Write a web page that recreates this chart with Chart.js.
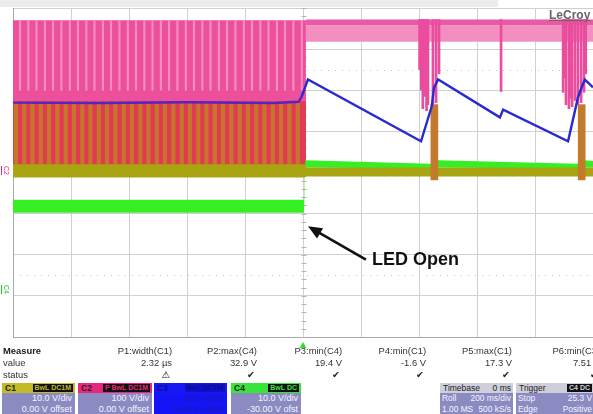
<!DOCTYPE html>
<html>
<head>
<meta charset="utf-8">
<script src="https://cdn.jsdelivr.net/npm/chart.js@4.4.1/dist/chart.umd.min.js"></script>
<style>
  html, body { margin: 0; padding: 0; background: #fff; }
  #wrap { position: relative; width: 593px; height: 414px; overflow: hidden;
          font-family: "Liberation Sans", Arial, sans-serif; color: #333; }
  canvas { position: absolute; left: 0; top: 0; }
  .topbar { position: absolute; left: 0; top: 0; width: 498px; height: 7px; background: #ececec; }
  .brand { position: absolute; left: 549px; top: 8px; font: bold 12px/14px "Liberation Sans", Arial, sans-serif;
           color: #666; text-decoration: underline; }
  .chlabel { position: absolute; font: 7px/8px "Liberation Sans", Arial, sans-serif; transform: rotate(90deg);
             border-bottom: 1px solid currentColor; }
  .note { position: absolute; left: 372px; top: 249px; font: bold 18px/20px "Liberation Sans", Arial, sans-serif; color: #111; }
  .m { position: absolute; font: 9.4px/12px "Liberation Sans", Arial, sans-serif; color: #333; white-space: nowrap; }
  .m.b { font-weight: bold; color: #222; }
  .ic { position: absolute; font: bold 9.5px/12px "DejaVu Sans", sans-serif; color: #222; }
  .box { position: absolute; top: 383px; height: 31px; overflow: hidden; }
  .hd { position: relative; height: 10px; padding-left: 3px; font: bold 8.5px/10px "Liberation Sans", Arial, sans-serif; color: #222; }
  .badge { position: absolute; right: 2px; top: 1px; height: 8px; padding: 0 2px; background: #111;
           font: bold 7px/8px "Liberation Sans", Arial, sans-serif; }
  .bd { height: 21px; background: #8b8bc2; color: #f4f4ff; text-align: right; padding-right: 3px;
        font: 9px/10.5px "Liberation Sans", Arial, sans-serif; white-space: nowrap; }
  .bd.small { font-size: 8.4px; padding-right: 2px; }
  .row { display: flex; justify-content: space-between; padding-left: 2px; }
</style>
</head>
<body>
<div id="wrap">
  <canvas id="scope" width="593" height="414"></canvas>
  <div class="topbar"></div>
  <div class="brand">LeCroy</div>
  <div class="chlabel" style="left:1px;top:166px;color:#e2287a">C2</div>
  <div class="chlabel" style="left:1px;top:285px;color:#22c022">C4</div>
  <div class="note">LED Open</div>

  <div class="m b" style="left:3px;top:345px">Measure</div>
  <div class="m" style="left:3px;top:357px">value</div>
  <div class="m" style="left:3px;top:369px">status</div>
  <div id="measure"></div>

  <div class="box" style="left:2px;width:73px">
    <div class="hd" style="background:#c2ba26">C1<span class="badge" style="color:#c2ba26">BwL DC1M</span></div>
    <div class="bd"><div>10.0 V/div</div><div>0.00 V offset</div></div>
  </div>
  <div class="box" style="left:78px;width:74px">
    <div class="hd" style="background:#e8267e">C2<span class="badge" style="color:#e8267e">P BwL DC1M</span></div>
    <div class="bd"><div>100 V/div</div><div>0.00 V offset</div></div>
  </div>
  <div class="box" style="left:154px;width:73px">
    <div class="hd" style="background:#1818f4;color:#0c0c90">C3<span class="badge" style="background:#1010c8;color:#0c0c90">BwL DC1M</span></div>
    <div class="bd" style="background:#1414f6;color:#1a1ab0"><div>10.0 V/div</div><div>0.00 V offset</div></div>
  </div>
  <div class="box" style="left:231px;width:70px">
    <div class="hd" style="background:#38e438">C4<span class="badge" style="color:#38e438">BwL DC</span></div>
    <div class="bd"><div>10.0 V/div</div><div>-30.00 V ofst</div></div>
  </div>
  <div class="box" style="left:440px;width:73px">
    <div class="hd" style="background:#cfcfdc"><div class="row" style="padding:0 2px 0 0;font-weight:normal"><span>Timebase</span><span>0 ms</span></div></div>
    <div class="bd small"><div class="row"><span>Roll</span><span>200 ms/div</span></div><div class="row"><span>1.00 MS</span><span>500 kS/s</span></div></div>
  </div>
  <div class="box" style="left:516px;width:84px">
    <div class="hd" style="background:#cfcfdc;font-weight:normal">Trigger<span class="badge" style="right:8px;color:#cfcfdc">C4 DC</span></div>
    <div class="bd small" style="padding-right:8px"><div class="row"><span>Stop</span><span>25.3 V</span></div><div class="row"><span>Edge</span><span>Positive</span></div></div>
  </div>
</div>

<script>
// time axis in ms (200 ms/div, trigger at 0), vertical axis in divisions
const timeMin = -1000;
const timeMax = 1000;

// C3 (blue): output voltage, V
const c3Time  = [-1000, -700, -400, -100, -15, -5, 17, 407, 444, 452, 466, 679, 690, 914, 948, 962, 972, 1000];
const c3Volts = [17.0, 16.9, 17.1, 16.9, 17.2, 18.4, 22.6, 7.6, 16.1, 20.7, 22.6, 13.4, 15.3, 7.6, 18.2, 20.9, 22.6, 20.7];

// C4 (green): noisy band, V
const c4Time = [-1000, 3, 8, 440, 466, 945, 972, 1000];
const c4High = [23.4, 23.4, 33.0, 32.1, 33.0, 32.1, 33.0, 32.8];
const c4Low  = [20.2, 20.2, 31.2, 30.9, 31.2, 30.9, 31.2, 31.2];

// C1 (olive): baseline band and switching pulses, V
const c1Time = [-1000, 6, 12, 1000];
const c1High = [2.0, 2.0, 1.2, 1.2];
const c1Low  = [-1.2, -1.2, -1.0, -1.0];
const c1PulseTop = 17.3;
const c1PulseTimes = [-990, -961, -933, -904, -876, -847, -818, -790, -761, -733, -704, -676,
                      -647, -618, -590, -561, -533, -504, -476, -447, -418, -390, -361, -333,
                      -304, -276, -247, -218, -190, -161, -133, -104, -76, -47, -18];
const c1BurstTimes = [453, 961];
const c1BurstTop = 16.5;
const c1BurstLow = -1.8;

// C2 (pink): switch node, V
const c2LeftTime = [-1000, 10];
const c2LeftTop  = [370, 370];
const c2LeftLow  = [0, 0];
const c2PulseTimes = [-976, -947, -919, -890, -862, -833, -804, -776, -747, -719, -690, -662,
                      -633, -604, -576, -547, -519, -490, -462, -433, -404, -376, -347, -319,
                      -290, -262, -233, -204, -176, -147, -119, -90, -62, -33, -4];
const c2PulseLow = 200;
const c2RightTime = [10, 1000];
const c2RightTop  = [372, 372];
const c2RightMid  = [358, 358];
const c2RightLow  = [318, 318];
const c2SpikeTimes = [402, 408, 413, 421, 426, 431, 448, 459, 469, 683,
                      897, 902, 907, 917, 922, 928, 938, 948, 959, 969, 975];
const c2SpikeLows  = [250, 200, 155, 185, 150, 165, 160, 170, 240, 197,
                      195, 230, 165, 155, 180, 160, 175, 165, 170, 195, 240];

// measurement table
const measureNames  = ['P1:width(C1)', 'P2:max(C4)', 'P3:min(C4)', 'P4:min(C1)', 'P5:max(C1)', 'P6:min(C3)'];
const measureValues = ['2.32 µs', '32.9 V', '19.4 V', '-1.6 V', '17.3 V', '7.51 V'];
const measureStatus = ['⚠', '✔', '✔', '✔', '✔', '✔'];
const measureRight  = [172, 257, 342, 426, 512, 600];

// annotation arrow (ms, div)
const arrowFrom = { t: 217, d: -2.12 };
const arrowTo   = { t: 17, d: -1.31 };

const pts = (times, vals) => times.map((t, i) => ({ x: t, y: vals[i] }));
const bars = (times, lo, hi) => times.map((t, i) => ({
  x: t, y: [Array.isArray(lo) ? lo[i] : lo, Array.isArray(hi) ? hi[i] : hi]
}));

function band(axis, times, hi, lo, color) {
  return [
    { type: 'line', yAxisID: axis, data: pts(times, hi), fill: '+1', backgroundColor: color,
      borderWidth: 0, pointRadius: 0 },
    { type: 'line', yAxisID: axis, data: pts(times, lo), fill: false, borderWidth: 0, pointRadius: 0 },
  ];
}

function stripes(axis, data, color, width) {
  return { type: 'bar', yAxisID: axis, data: data, backgroundColor: color, borderWidth: 0,
           barThickness: width, grouped: false };
}

// build measurement rows
const measure = document.getElementById('measure');
measureNames.forEach((name, i) => {
  const r = 593 - measureRight[i];
  measure.insertAdjacentHTML('beforeend',
    `<div class="m" style="right:${r}px;top:345px">${name}</div>` +
    `<div class="m" style="right:${r}px;top:357px">${measureValues[i]}</div>` +
    `<div class="ic" style="right:${r + 2}px;top:369px">${measureStatus[i]}</div>`);
});

const scopeDecor = {
  id: 'scopeDecor',
  beforeDatasetsDraw(chart) {
    const { ctx, chartArea: a, scales: { x, y } } = chart;
    ctx.save();
    ctx.strokeStyle = '#c4c4c4';
    ctx.lineWidth = 1;
    ctx.setLineDash([1, 6]);
    [2.5, -2.5].forEach((d) => {
      const py = Math.round(y.getPixelForValue(d)) + 0.5;
      ctx.beginPath(); ctx.moveTo(a.left, py); ctx.lineTo(a.right, py); ctx.stroke();
    });
    ctx.setLineDash([]);
    ctx.strokeStyle = '#b4b4b4';
    const cx = Math.round(x.getPixelForValue(0)) + 0.5;
    const cy = Math.round(y.getPixelForValue(0)) + 0.5;
    for (let i = -20; i <= 20; i++) {
      const py = Math.round(y.getPixelForValue(i / 5)) + 0.5;
      ctx.beginPath(); ctx.moveTo(cx - 2, py); ctx.lineTo(cx + 3, py); ctx.stroke();
    }
    for (let i = -25; i <= 25; i++) {
      const px = Math.round(x.getPixelForValue(i * 40)) + 0.5;
      ctx.beginPath(); ctx.moveTo(px, cy - 2); ctx.lineTo(px, cy + 3); ctx.stroke();
    }
    ctx.restore();
  },
  afterDatasetsDraw(chart) {
    const { ctx, chartArea: a, scales: { x, y } } = chart;
    ctx.save();
    // arrow
    const x0 = x.getPixelForValue(arrowFrom.t), y0 = y.getPixelForValue(arrowFrom.d);
    const x1 = x.getPixelForValue(arrowTo.t), y1 = y.getPixelForValue(arrowTo.d);
    const ang = Math.atan2(y1 - y0, x1 - x0);
    const head = 14;
    ctx.strokeStyle = '#111';
    ctx.fillStyle = '#111';
    ctx.lineWidth = 2.6;
    ctx.beginPath();
    ctx.moveTo(x0, y0);
    ctx.lineTo(x1 - Math.cos(ang) * head * 0.8, y1 - Math.sin(ang) * head * 0.8);
    ctx.stroke();
    ctx.beginPath();
    ctx.moveTo(x1, y1);
    ctx.lineTo(x1 - head * Math.cos(ang) + 6 * Math.sin(ang), y1 - head * Math.sin(ang) - 6 * Math.cos(ang));
    ctx.lineTo(x1 - head * Math.cos(ang) - 6 * Math.sin(ang), y1 - head * Math.sin(ang) + 6 * Math.cos(ang));
    ctx.closePath();
    ctx.fill();
    // trigger position marker
    const tx = x.getPixelForValue(0);
    ctx.fillStyle = '#33dd33';
    ctx.beginPath();
    ctx.moveTo(tx, a.bottom + 5);
    ctx.lineTo(tx - 3.5, a.bottom + 11);
    ctx.lineTo(tx + 3.5, a.bottom + 11);
    ctx.closePath();
    ctx.fill();
    ctx.restore();
  }
};

const hiddenAxis = (min, max) => ({ axis: 'y', position: 'left', display: false, min: min, max: max });

new Chart(document.getElementById('scope'), {
  type: 'line',
  data: {
    datasets: [
      // first dataset is drawn on top
      { type: 'line', yAxisID: 'c3', data: pts(c3Time, c3Volts), borderWidth: 2.4, pointRadius: 0,
        borderColor: '#2a2ad0', fill: false,
        segment: { borderColor: (c) => (c.p0.parsed.x < -10 ? '#5a22c0' : '#2a2ad0') } },
      stripes('c2', bars(c2SpikeTimes, c2SpikeLows, 372), '#ea4c9e', 2),
      stripes('c1', bars(c1BurstTimes, c1BurstLow, c1BurstTop), '#c27a2c', 7),
      ...band('c1', c1Time, c1High, c1Low, '#a8a412'),
      ...band('c4', c4Time, c4High, c4Low, '#36ee24'),
      ...band('c2', c2RightTime, c2RightTop, c2RightMid, '#eb58a4'),
      ...band('c2', c2RightTime, c2RightMid, c2RightLow, '#f38fc0'),
      stripes('c1', bars(c1PulseTimes, 0, c1PulseTop), '#c6762c', 3.5),
      ...band('c1', c2LeftTime, [c1PulseTop, c1PulseTop], [0, 0], '#e23a52'),
      stripes('c2', bars(c2PulseTimes, c2PulseLow, 368), '#f48cc0', 1.5),
      ...band('c2', c2LeftTime, c2LeftTop, c2LeftLow, '#ec4f9c'),
    ]
  },
  options: {
    responsive: false,
    animation: false,
    layout: { padding: { left: 13, top: 8, right: 0, bottom: 77 } },
    plugins: { legend: { display: false }, tooltip: { enabled: false } },
    scales: {
      x: { type: 'linear', min: timeMin, max: timeMax, offset: false,
           ticks: { display: false, stepSize: 200 },
           grid: { color: '#d0d0d0', drawTicks: false, offset: false },
           border: { color: '#a8a8a8' } },
      y: { type: 'linear', min: -4, max: 4,
           ticks: { display: false, stepSize: 1 },
           grid: { color: '#d0d0d0', drawTicks: false },
           border: { color: '#a8a8a8' } },
      c1: hiddenAxis(-40, 40),
      c2: hiddenAxis(-400, 400),
      c3: hiddenAxis(-40, 40),
      c4: hiddenAxis(-10, 70),
    }
  },
  plugins: [scopeDecor]
});
</script>
</body>
</html>
